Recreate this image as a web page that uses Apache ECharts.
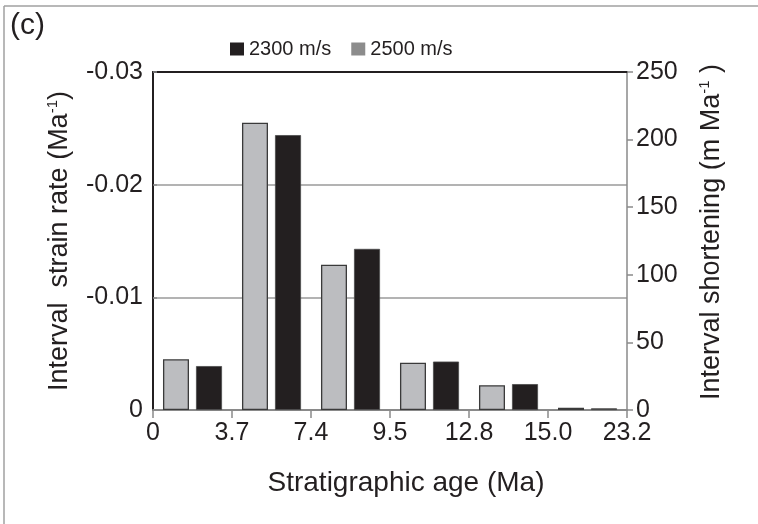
<!DOCTYPE html>
<html>
<head>
<meta charset="utf-8">
<title>Interval strain rate and shortening</title>
<script src="https://cdn.jsdelivr.net/npm/echarts@6/dist/echarts.min.js"></script>
<style>
  html, body { margin: 0; padding: 0; background: #fff; }
  #chart { width: 758px; height: 524px; }
</style>
</head>
<body>
<div id="chart"></div>
<script>
// Age intervals (Ma) and their boundary tick labels
const intervals = ['0-3.7', '3.7-7.4', '7.4-9.5', '9.5-12.8', '12.8-15.0', '15.0-23.2'];
const ageTicks = ['0', '3.7', '7.4', '9.5', '12.8', '15.0', '23.2'];

// Interval strain rate (Ma^-1) for the two velocity models
const rate2500 = [-0.0045, -0.0255, -0.0129, -0.0042, -0.0022, -0.0002];
const rate2300 = [-0.0039, -0.0244, -0.0143, -0.0043, -0.0023, -0.00015];

// Right axis scale: interval shortening (m Ma^-1)
const shorteningMin = 0, shorteningMax = 250, shorteningStep = 50;

const FONT = 'Liberation Sans, Arial, Helvetica, sans-serif';
const AXIS_GREY = '#8a8a8a';
const INK = '#231f20';

const chart = echarts.init(document.getElementById('chart'), null, { renderer: 'canvas' });

const supRich = {
  n: { fontSize: 27, fontFamily: FONT, color: INK, lineHeight: 30 },
  s: { fontSize: 15, fontFamily: FONT, color: INK, lineHeight: 30, verticalAlign: 'top', padding: [0, 0, 11, 0] }
};

chart.setOption({
  animation: false,
  backgroundColor: '#fff',
  title: {
    text: '(c)',
    left: 5,
    top: 6,
    textStyle: { fontFamily: FONT, fontSize: 30, fontWeight: 'normal', color: INK }
  },
  legend: {
    left: 225,
    top: 34,
    itemWidth: 14,
    itemHeight: 13,
    itemGap: 20,
    icon: 'rect',
    textStyle: { fontFamily: FONT, fontSize: 20, color: INK },
    data: [
      { name: '2300 m/s', itemStyle: { color: INK, borderWidth: 0 } },
      { name: '2500 m/s', itemStyle: { color: '#8c8c8c', borderWidth: 0 } }
    ]
  },
  graphic: [
    { type: 'line', shape: { x1: 4, y1: 6, x2: 758, y2: 6 }, style: { stroke: '#a0a0a0', lineWidth: 1.5 } },
    { type: 'line', shape: { x1: 4, y1: 6, x2: 4, y2: 524 }, style: { stroke: '#a0a0a0', lineWidth: 1.5 } }
  ],
  grid: { left: 153, right: 131, top: 72, bottom: 114, containLabel: false },
  xAxis: [
    {
      type: 'category',
      data: intervals,
      boundaryGap: true,
      axisLine: { show: false },
      axisTick: { show: false },
      axisLabel: { show: false },
      splitLine: { show: false }
    },
    {
      type: 'value',
      position: 'bottom',
      min: 0,
      max: ageTicks.length - 1,
      interval: 1,
      name: 'Stratigraphic age (Ma)',
      nameLocation: 'middle',
      nameGap: 59,
      nameTextStyle: { fontFamily: FONT, fontSize: 28, color: INK, padding: [0, 0, 0, 32] },
      axisLine: { show: true, onZero: false, lineStyle: { color: AXIS_GREY, width: 2 } },
      axisTick: { show: true, length: 8, lineStyle: { color: AXIS_GREY, width: 1.5 } },
      axisLabel: {
        fontFamily: FONT, fontSize: 25, color: INK, margin: 11,
        formatter: v => ageTicks[Math.round(v)]
      },
      splitLine: { show: false }
    },
    {
      type: 'value',
      position: 'top',
      min: 0,
      max: 1,
      axisLine: { show: true, onZero: false, lineStyle: { color: INK, width: 2 } },
      axisTick: { show: false },
      axisLabel: { show: false },
      splitLine: { show: false }
    }
  ],
  yAxis: [
    {
      type: 'value',
      position: 'left',
      inverse: true,
      min: -0.03,
      max: 0,
      interval: 0.01,
      name: '{n|Interval  strain rate (Ma}{s|-1}{n|)}',
      nameLocation: 'middle',
      nameRotate: 90,
      nameGap: 78,
      nameTextStyle: { rich: supRich },
      axisLine: { show: true, onZero: false, lineStyle: { color: INK, width: 2 } },
      axisTick: { show: true, inside: true, length: 4, lineStyle: { color: AXIS_GREY, width: 1.5 } },
      axisLabel: {
        fontFamily: FONT, fontSize: 25, color: INK, margin: 10,
        formatter: v => (Math.abs(v) < 1e-9 ? '0' : v.toFixed(2))
      },
      splitLine: { show: true, lineStyle: { color: '#9a9a9a', width: 1.5 } }
    },
    {
      type: 'value',
      position: 'right',
      min: shorteningMin,
      max: shorteningMax,
      interval: shorteningStep,
      name: '{n|Interval shortening (m Ma}{s|-1}{n| )}',
      nameLocation: 'middle',
      nameRotate: 90,
      nameGap: 70,
      nameTextStyle: { rich: supRich, padding: [0, 0, 0, 18] },
      axisLine: { show: true, onZero: false, lineStyle: { color: AXIS_GREY, width: 1.5 } },
      axisTick: { show: true, length: 6, lineStyle: { color: AXIS_GREY, width: 1.5 } },
      axisLabel: { fontFamily: FONT, fontSize: 25, color: INK, margin: 9 },
      splitLine: { show: false }
    }
  ],
  series: [
    {
      name: '2500 m/s',
      type: 'bar',
      xAxisIndex: 0,
      yAxisIndex: 0,
      data: rate2500,
      barWidth: 26,
      barGap: '27%',
      itemStyle: { color: '#bcbdc0', borderColor: '#3a3a3a', borderWidth: 1.3 }
    },
    {
      name: '2300 m/s',
      type: 'bar',
      xAxisIndex: 0,
      yAxisIndex: 0,
      data: rate2300,
      barWidth: 26,
      barGap: '27%',
      itemStyle: { color: INK, borderColor: '#4a4a4a', borderWidth: 0.8 }
    }
  ]
});
</script>
</body>
</html>
